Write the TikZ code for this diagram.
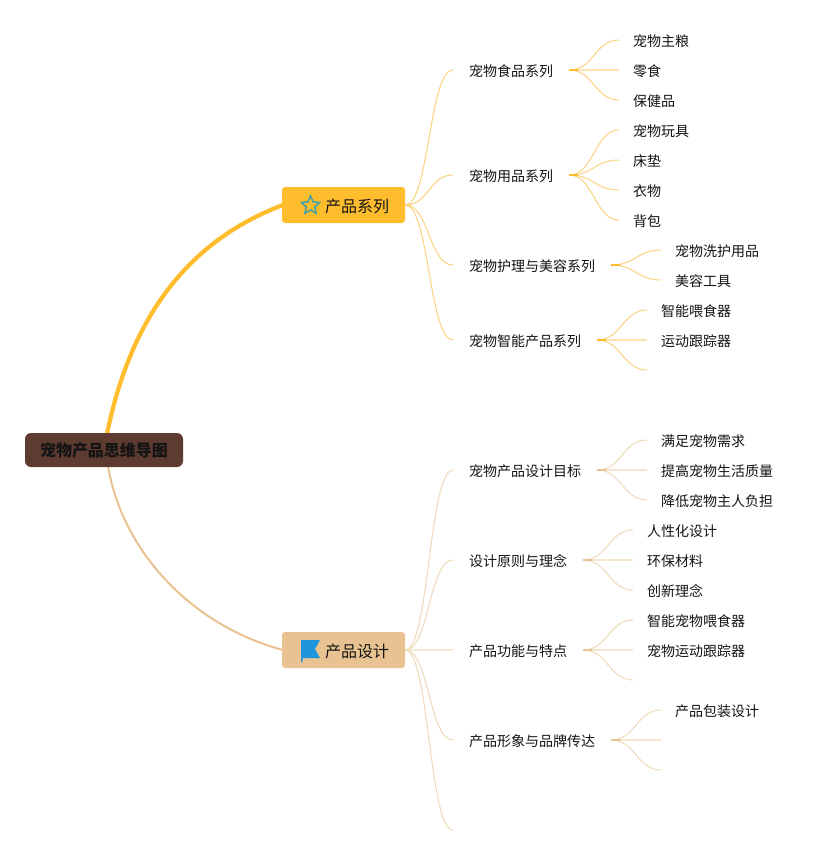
\documentclass[tikz,border=0pt]{standalone}
\usepackage{fontspec}
\setmainfont{Noto Sans CJK SC}
\usetikzlibrary{shapes.geometric}
\definecolor{orangeA}{HTML}{FFBD2E}
\definecolor{orangeB}{HTML}{FBD27F}
\definecolor{orangeC}{HTML}{FDE3AE}
\definecolor{tanA}{HTML}{E8C391}
\definecolor{tanB}{HTML}{EFD9B8}
\definecolor{tanC}{HTML}{F5E6D0}
\definecolor{brownA}{HTML}{5E3B30}
\definecolor{inkA}{HTML}{141414}
\definecolor{blueA}{HTML}{1E96DC}
\definecolor{tealA}{HTML}{3F9FA8}
\tikzset{
  x=1pt,y=-1pt,
  rootbox/.style={fill=brownA,rounded corners=6pt,minimum width=158pt,minimum height=34pt,inner sep=0pt,font=\fontsize{16}{16}\selectfont\bfseries,text=inkA},
  mainorange/.style={fill=orangeA,rounded corners=3pt,minimum width=123pt,minimum height=36pt,inner sep=0pt},
  maintan/.style={fill=tanA,rounded corners=3pt,minimum width=123pt,minimum height=36pt,inner sep=0pt},
  maintext/.style={font=\fontsize{16}{16}\selectfont,text=inkA,inner sep=0pt,anchor=west,text height=17pt,text depth=2pt},
  lvl/.style={anchor=west,inner ysep=0pt,font=\fontsize{14}{14}\selectfont,text=inkA,text height=14.5pt,text depth=2pt},
  sub/.style={lvl,inner xsep=16pt},
  leaf/.style={lvl,inner xsep=14pt},
  brO/.style={draw=orangeB,line width=1pt},
  brT/.style={draw=tanB,line width=1pt},
  flatO/.style={draw=orangeC,line width=2pt},
  flatT/.style={draw=tanC,line width=2pt},
  stubO/.style={draw=orangeA,line width=1.8pt},
  stubT/.style={draw=tanA,line width=1.5pt},
  trunkO/.style={draw=orangeA,line width=4.2pt},
  trunkT/.style={draw=tanA,line width=2pt},
}
\newcommand{\branch}[3]{\draw[#1] (#2) .. controls +(24,0) and +(-24,0) .. (#3);}
\newcommand{\stub}[2]{\draw[#1] (#2) -- +(9,0);}
\begin{document}
\begin{tikzpicture}
\useasboundingbox (0,0) rectangle (833,855);
\fill[white] (0,0) rectangle (833,855);

\coordinate (rootup) at (107,434);
\coordinate (rootdn) at (108,466);
\coordinate (m1in) at (283,205);
\coordinate (m2in) at (283,650);
\draw[trunkO] (rootup) .. controls (131,315) and (190,240) .. (m1in);
\draw[trunkT] (rootdn) .. controls (122,550) and (190,625) .. (m2in);

\node[rootbox] (root) at (104,450) {宠物产品思维导图};
\node[mainorange] (m1) at (343.5,205) {};
\node[maintan] (m2) at (343.5,650) {};
\node[maintext] (m1t) at (325,205) {产品系列};
\node[maintext] (m2t) at (325,650) {产品设计};
\node[star,star points=5,star point ratio=2.1,draw=tealA,fill=orangeA,line width=1.5pt,minimum size=19pt,inner sep=0pt] (staricon) at (310.5,205.5) {};
\fill[blueA] (301,640) -- (320,640) -- (315,649) -- (320,658) -- (302.5,658) -- (302.5,662) -- (301,662) -- cycle;

% level 2
\node[sub] (t1) at (453,70) {宠物食品系列};
\node[sub] (t2) at (453,175) {宠物用品系列};
\node[sub] (t3) at (453,265) {宠物护理与美容系列};
\node[sub] (t4) at (453,340) {宠物智能产品系列};
\node[sub] (t5) at (453,470) {宠物产品设计目标};
\node[sub] (t6) at (453,560) {设计原则与理念};
\node[sub] (t7) at (453,650) {产品功能与特点};
\node[sub] (t8) at (453,740) {产品形象与品牌传达};
\coordinate (t9) at (453,830);

% leaves
\node[leaf] (a1) at (619,40) {宠物主粮};
\node[leaf] (a2) at (619,70) {零食};
\node[leaf] (a3) at (619,100) {保健品};
\node[leaf] (b1) at (619,130) {宠物玩具};
\node[leaf] (b2) at (619,160) {床垫};
\node[leaf] (b3) at (619,190) {衣物};
\node[leaf] (b4) at (619,220) {背包};
\node[leaf] (c1) at (661,250) {宠物洗护用品};
\node[leaf] (c2) at (661,280) {美容工具};
\node[leaf] (d1) at (647,310) {智能喂食器};
\node[leaf] (d2) at (647,340) {运动跟踪器};
\coordinate (d3) at (647,370);
\node[leaf] (e1) at (647,440) {满足宠物需求};
\node[leaf] (e2) at (647,470) {提高宠物生活质量};
\node[leaf] (e3) at (647,500) {降低宠物主人负担};
\node[leaf] (f1) at (633,530) {人性化设计};
\node[leaf] (f2) at (633,560) {环保材料};
\node[leaf] (f3) at (633,590) {创新理念};
\node[leaf] (g1) at (633,620) {智能宠物喂食器};
\node[leaf] (g2) at (633,650) {宠物运动跟踪器};
\coordinate (g3) at (633,680);
\node[leaf] (h1) at (661,710) {产品包装设计};
\coordinate (h2) at (661,740);
\coordinate (h3) at (661,770);

% main to level 2
\branch{brO}{m1.east}{t1.west}
\branch{brO}{m1.east}{t2.west}
\branch{brO}{m1.east}{t3.west}
\branch{brO}{m1.east}{t4.west}
\branch{brT}{m2.east}{t5.west}
\branch{brT}{m2.east}{t6.west}
\branch{flatT}{m2.east}{t7.west}
\branch{brT}{m2.east}{t8.west}
\branch{brT}{m2.east}{t9}

% level 2 to leaves
\branch{brO}{t1.east}{a1.west}
\branch{flatO}{t1.east}{a2.west}
\branch{brO}{t1.east}{a3.west}
\branch{brO}{t2.east}{b1.west}
\branch{brO}{t2.east}{b2.west}
\branch{brO}{t2.east}{b3.west}
\branch{brO}{t2.east}{b4.west}
\branch{brO}{t3.east}{c1.west}
\branch{brO}{t3.east}{c2.west}
\branch{brO}{t4.east}{d1.west}
\branch{flatO}{t4.east}{d2.west}
\branch{brO}{t4.east}{d3}
\branch{brT}{t5.east}{e1.west}
\branch{flatT}{t5.east}{e2.west}
\branch{brT}{t5.east}{e3.west}
\branch{brT}{t6.east}{f1.west}
\branch{flatT}{t6.east}{f2.west}
\branch{brT}{t6.east}{f3.west}
\branch{brT}{t7.east}{g1.west}
\branch{flatT}{t7.east}{g2.west}
\branch{brT}{t7.east}{g3}
\branch{brT}{t8.east}{h1.west}
\branch{flatT}{t8.east}{h2}
\branch{brT}{t8.east}{h3}

\stub{stubO}{t1.east}
\stub{stubO}{t2.east}
\stub{stubO}{t3.east}
\stub{stubO}{t4.east}
\stub{stubT}{t5.east}
\stub{stubT}{t6.east}
\stub{stubT}{t7.east}
\stub{stubT}{t8.east}
\end{tikzpicture}
\end{document}
